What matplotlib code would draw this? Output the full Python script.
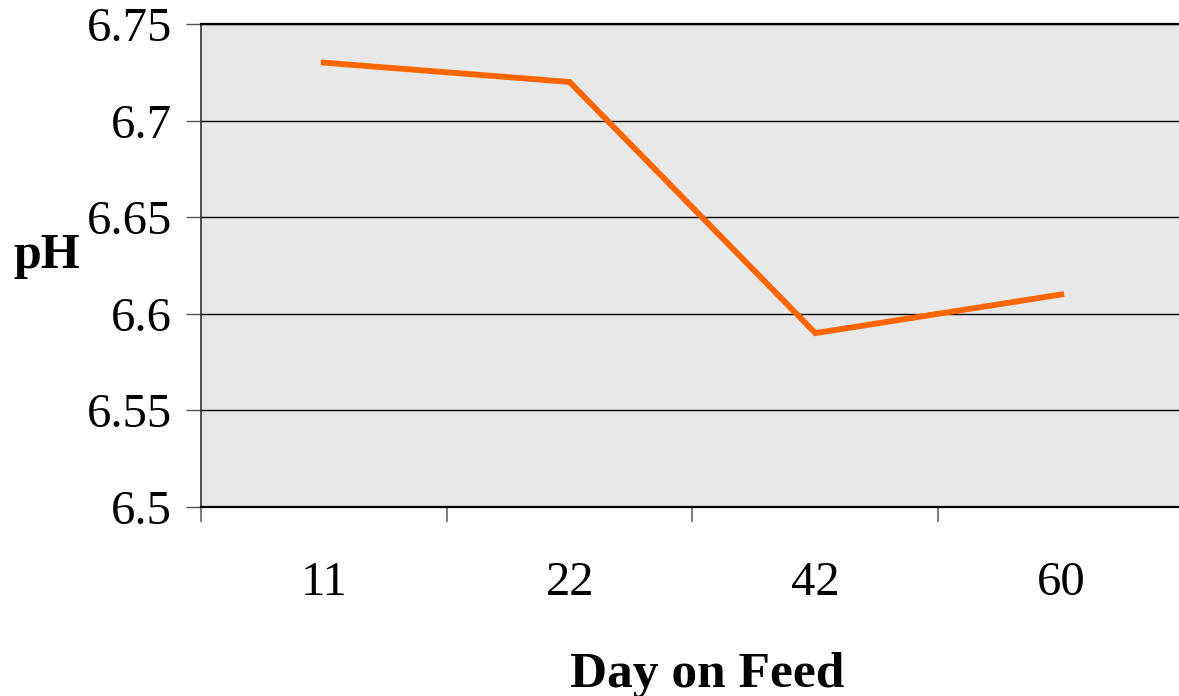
import numpy as np
import matplotlib.pyplot as plt

days = ['11', '22', '42', '60']
ph = [6.73, 6.72, 6.59, 6.61]
y_ticks = [6.5, 6.55, 6.6, 6.65, 6.7, 6.75]
y_labels = ['6.5', '6.55', '6.6', '6.65', '6.7', '6.75']

plt.rcParams['font.family'] = ['Liberation Serif', 'DejaVu Serif']

fig = plt.figure(figsize=(11.79, 6.96), dpi=100)
ax = fig.add_axes([201/1179, 1 - 507/696, 983/1179, 483/696])
ax.set_facecolor('#e8e8e8')

x = np.arange(len(days))
ax.plot(x, ph, color='#ff6600', linewidth=4.2, solid_joinstyle='miter', zorder=3)

ax.set_xlim(-0.5, len(days) - 0.5)
ax.set_ylim(6.5, 6.75)

# gridlines
for t in y_ticks:
    ax.axhline(t, color='black', linewidth=1.0, zorder=1)

ax.set_yticks(y_ticks)
ax.set_yticklabels(y_labels, fontsize=35)
ax.tick_params(axis='y', direction='out', length=11, width=1, color='#555555', pad=10)

# category labels at centres, ticks at boundaries
ax.set_xticks(x)
ax.set_xticklabels(days, fontsize=35)
ax.set_xticks(np.arange(-0.5, len(days)), minor=True)
ax.tick_params(axis='x', which='major', length=0, pad=39)
ax.tick_params(axis='x', which='minor', direction='out', length=11, width=1.2, color='#666666')

ax.spines['right'].set_visible(False)
ax.spines['top'].set_linewidth(1.6)
ax.spines['bottom'].set_linewidth(1.6)
ax.spines['left'].set_linewidth(1.2)
ax.spines['left'].set_color('#333333')

fig.text(707/1179, 1 - 687/696, 'Day on Feed', ha='center', va='baseline',
         fontsize=37, fontweight='bold')
fig.text(13/1179, 1 - 268/696, 'pH', ha='left', va='baseline',
         fontsize=36, fontweight='bold')

fig.savefig('out.png', dpi=100)
